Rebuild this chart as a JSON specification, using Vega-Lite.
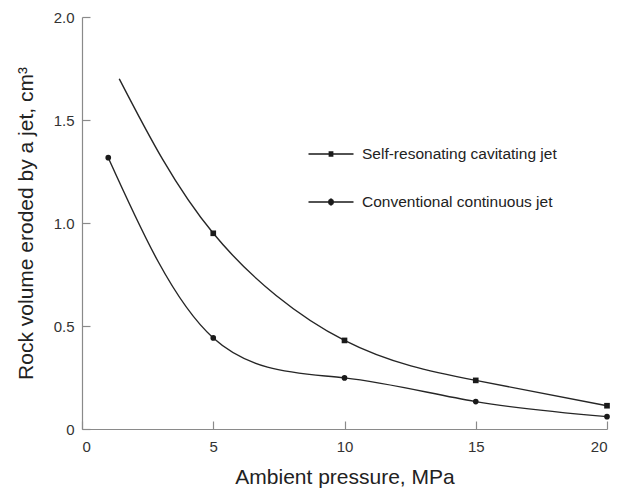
{
  "$schema": "https://vega.github.io/schema/vega-lite/v6.json",
  "width": 525,
  "height": 412,
  "autosize": {"type": "none"},
  "padding": {"left": 82, "top": 17, "right": 12, "bottom": 64},
  "background": "white",
  "config": {
    "view": {"stroke": null},
    "font": "Liberation Sans",
    "axis": {
      "domainColor": "#8a8a8a",
      "tickColor": "#8a8a8a",
      "domainWidth": 1.2,
      "tickWidth": 1.2,
      "grid": false,
      "labelFont": "Liberation Sans",
      "labelFontSize": 15,
      "labelColor": "#333333",
      "titleFont": "Liberation Sans",
      "titleFontSize": 21,
      "titleFontWeight": "normal",
      "titleColor": "#222222"
    }
  },
  "data": {
    "values": [
      {"series": "Self-resonating cavitating jet", "p": 1.42, "v": 1.70},
      {"series": "Self-resonating cavitating jet", "p": 5, "v": 0.95},
      {"series": "Self-resonating cavitating jet", "p": 10, "v": 0.43},
      {"series": "Self-resonating cavitating jet", "p": 15, "v": 0.236},
      {"series": "Self-resonating cavitating jet", "p": 20, "v": 0.113},
      {"series": "Conventional continuous jet", "p": 1, "v": 1.317},
      {"series": "Conventional continuous jet", "p": 5, "v": 0.442},
      {"series": "Conventional continuous jet", "p": 10, "v": 0.248},
      {"series": "Conventional continuous jet", "p": 15, "v": 0.133},
      {"series": "Conventional continuous jet", "p": 20, "v": 0.06}
    ]
  },
  "encoding": {
    "x": {
      "field": "p",
      "type": "quantitative",
      "scale": {"domain": [0, 20], "nice": false},
      "axis": {
        "values": [0, 5, 10, 15, 20],
        "tickSize": -8,
        "labelPadding": 18,
        "title": "Ambient pressure, MPa",
        "titlePadding": 12
      }
    },
    "y": {
      "field": "v",
      "type": "quantitative",
      "scale": {"domain": [0, 2], "nice": false},
      "axis": {
        "values": [0, 0.5, 1, 1.5, 2],
        "labelExpr": "datum.value === 0 ? '0' : format(datum.value, '.1f')",
        "tickSize": -8,
        "labelPadding": 16,
        "title": "Rock volume eroded by a jet, cm³",
        "titlePadding": 17
      }
    }
  },
  "layer": [
    {
      "mark": {"type": "line", "interpolate": "natural", "color": "#262626", "strokeWidth": 1.4},
      "encoding": {"detail": {"field": "series"}}
    },
    {
      "transform": [
        {"filter": "!(datum.series === 'Self-resonating cavitating jet' && datum.p < 2)"}
      ],
      "mark": {"type": "point", "filled": true, "color": "#1a1a1a", "opacity": 1, "size": 32},
      "encoding": {
        "shape": {
          "field": "series",
          "type": "nominal",
          "scale": {
            "domain": ["Self-resonating cavitating jet", "Conventional continuous jet"],
            "range": ["square", "circle"]
          },
          "legend": null
        }
      }
    },
    {
      "transform": [{"filter": "false"}],
      "mark": {"type": "point", "filled": false, "color": "#1a1a1a", "opacity": 1, "strokeWidth": 1.3},
      "encoding": {
        "shape": {
          "field": "series",
          "type": "nominal",
          "scale": {
            "domain": ["Self-resonating cavitating jet", "Conventional continuous jet"],
            "range": [
              "M-1.125,0H1.125M-0.12,-0.1H0.12M-0.12,-0.05H0.12M-0.12,0.05H0.12M-0.12,0.1H0.12",
              "M-1.125,0H1.125M-0.055,-0.14H0.055M-0.11,-0.1H0.11M-0.14,-0.05H0.14M-0.14,0.05H0.14M-0.11,0.1H0.11M-0.055,0.14H0.055"
            ]
          },
          "legend": {
            "title": null,
            "orient": "none",
            "legendX": 228,
            "legendY": 116,
            "symbolSize": 1600,
            "symbolStrokeWidth": 1.3,
            "symbolStrokeColor": "#1a1a1a",
            "symbolOpacity": 1,
            "rowPadding": 18,
            "labelOffset": 10,
            "labelFont": "Liberation Sans",
            "labelFontSize": 15.5,
            "labelColor": "#222222",
            "labelLimit": 400,
            "padding": 0
          }
        }
      }
    }
  ],
  "resolve": {"scale": {"shape": "independent"}, "legend": {"shape": "independent"}}
}
